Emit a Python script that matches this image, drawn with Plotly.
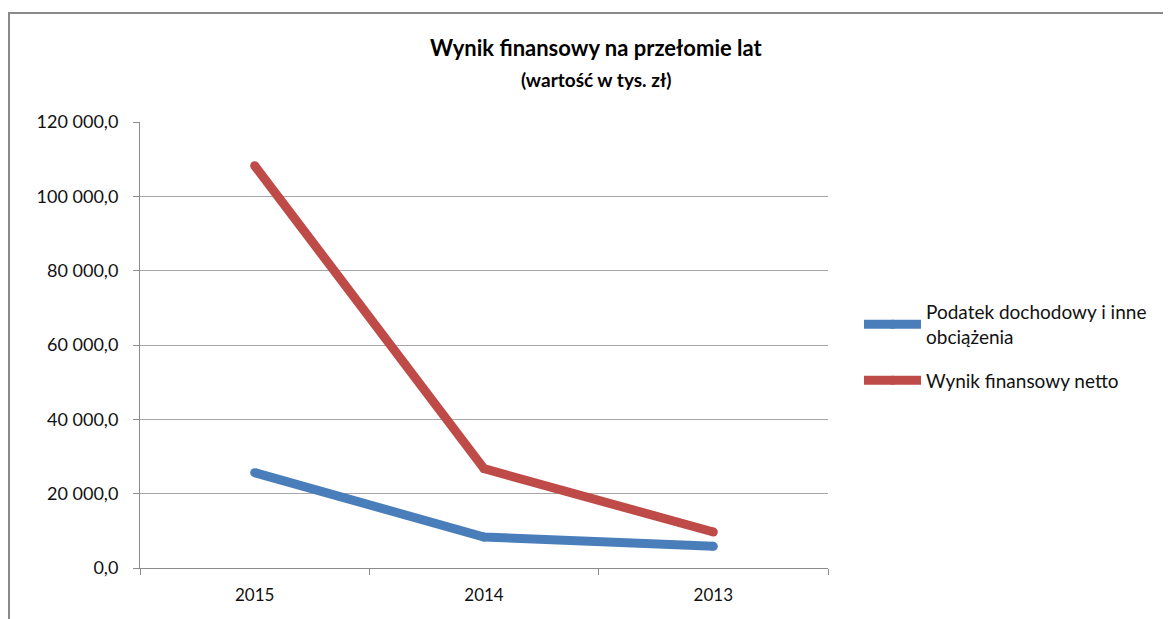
import plotly.graph_objects as go

years = ["2015", "2014", "2013"]
podatek = [25650, 8330, 5830]
wynik_netto = [108250, 26720, 9680]
series_names = ["Podatek dochodowy i inne<br>obciążenia", "Wynik finansowy netto"]
y_ticks = [0, 20000, 40000, 60000, 80000, 100000, 120000]

# page has an 8px body margin, so the figure starts at (8, 8) on screen
OFF = 8
W, H = 1171 - OFF, 619 - OFF
L, R, T, B = 140 - OFF, 1171 - 828, 122 - OFF, 619 - 568
pw, ph = W - L - R, H - T - B


def px(sx):
    return (sx - OFF - L) / pw


def py(sy):
    return 1 - (sy - OFF - T) / ph


fig = go.Figure()
fig.add_trace(go.Scatter(x=years, y=podatek, name=series_names[0], mode="lines+markers", legendgroup="a",
                         line=dict(color="#4A7EBB", width=9), marker=dict(size=9, color="#4A7EBB")))
fig.add_trace(go.Scatter(x=years, y=wynik_netto, name=series_names[1], mode="lines+markers", legendgroup="b",
                         line=dict(color="#BE4B48", width=9), marker=dict(size=9, color="#BE4B48")))

font = "Lato, 'Open Sans', sans-serif"
fig.update_layout(
    width=W, height=H,
    margin=dict(l=L, r=R, t=T, b=B),
    paper_bgcolor="white", plot_bgcolor="white",
    separators=", ",
    font=dict(family=font, size=17, color="#111"),
    showlegend=True,
    legend=dict(x=px(859), y=py(293), xanchor="left", yanchor="top",
                itemwidth=57, traceorder="grouped", tracegroupgap=16, font=dict(size=19),
                bgcolor="rgba(0,0,0,0)"),
    xaxis=dict(type="category", range=[-0.5, 2.5], showgrid=False,
               showline=True, linecolor="#8c8c8c", linewidth=1,
               ticks="outside", tickson="boundaries", ticklen=6, tickcolor="#8c8c8c",
               ticklabelstandoff=12, tickfont=dict(size=17), fixedrange=True),
    yaxis=dict(range=[0, 120000], tickvals=y_ticks, tickformat=",.1f",
               showgrid=True, gridcolor="#a6a6a6", gridwidth=1,
               showline=True, linecolor="#8c8c8c", linewidth=1,
               ticks="outside", ticklen=6, tickcolor="#8c8c8c",
               ticklabelstandoff=11,
               zeroline=False, tickfont=dict(size=18), fixedrange=True),
    annotations=[
        dict(text="<b>Wynik finansowy na przełomie lat</b>", xref="paper", yref="paper",
             x=px(596), y=py(48), xanchor="center", yanchor="middle",
             showarrow=False, font=dict(size=22, family=font, color="#000")),
        dict(text="<b>(wartość w tys. zł)</b>", xref="paper", yref="paper",
             x=px(596), y=py(79), xanchor="center", yanchor="middle",
             showarrow=False, font=dict(size=19, family=font, color="#000")),
    ],
    shapes=[
        dict(type="line", xref="paper", yref="paper",
             x0=px(OFF), x1=px(1200), y0=py(13), y1=py(13),
             line=dict(color="#8a8a8a", width=2)),
        dict(type="line", xref="paper", yref="paper",
             x0=px(OFF + 1), x1=px(OFF + 1), y0=py(13), y1=py(640),
             line=dict(color="#8a8a8a", width=2)),
    ],
)

fig.write_html("out.html", config=dict(displayModeBar=False))
